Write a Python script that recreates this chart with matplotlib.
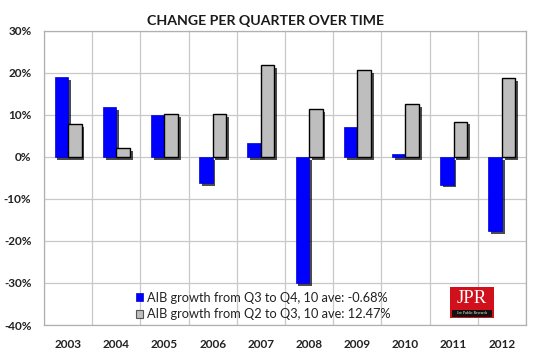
import matplotlib
matplotlib.use("Agg")
import matplotlib.pyplot as plt
import matplotlib.patheffects as pe
from matplotlib.patches import Patch, Rectangle
import numpy as np

years = ["2003", "2004", "2005", "2006", "2007", "2008", "2009", "2010", "2011", "2012"]
q3_q4 = [19.0, 11.9, 10.0, -6.2, 3.3, -30.0, 7.2, 0.7, -6.6, -17.6]
q2_q3 = [7.9, 2.1, 10.2, 10.2, 21.9, 11.4, 20.7, 12.6, 8.4, 18.8]
label_q3_q4 = "AIB growth from Q3 to Q4, 10 ave: -0.68%"
label_q2_q3 = "AIB growth from Q2 to Q3, 10 ave: 12.47%"
title = "CHANGE PER QUARTER OVER TIME"
yticks = [-40, -30, -20, -10, 0, 10, 20, 30]

plt.rcParams['font.family'] = ['Lato', 'DejaVu Sans']

fig = plt.figure(figsize=(5.35, 3.52), dpi=100)
ax = fig.add_axes([0.0822, 0.0767, 0.9008, 0.8353])

x = np.arange(len(years))
w = 0.28
shadow = [pe.SimplePatchShadow(offset=(2.0, -2.0), shadow_rgbFace='black', alpha=0.7), pe.Normal()]
ax.bar(x - w / 2, q3_q4, w, color='#0000FF', edgecolor='#0000CC', linewidth=0.5,
       path_effects=shadow, zorder=3)
ax.bar(x + w / 2, q2_q3, w, color='#BEBEBE', edgecolor='black', linewidth=1.0,
       path_effects=shadow, zorder=3)

ax.set_xlim(-0.5, len(years) - 0.5)
ax.set_ylim(-40, 30)
ax.set_yticks(yticks)
ax.set_yticklabels([f"{v}%" for v in yticks], fontsize=8.5, fontweight='bold', color='#222222')
ax.set_xticks(x)
ax.set_xticklabels(years, fontsize=8.5, fontweight='bold', color='#222222')
ax.set_xticks(np.arange(len(years) + 1) - 0.5, minor=True)
ax.tick_params(which='both', length=0, pad=10)
ax.tick_params(axis='y', pad=9)
ax.grid(True, which='minor', axis='x', color='#C8C8C8', linewidth=0.9, zorder=0)
ax.grid(True, which='major', axis='y', color='#C8C8C8', linewidth=0.9, zorder=0)
for s in ax.spines.values():
    s.set_color('#B0B0B0')
    s.set_linewidth(0.9)

fig.text(0.496, 0.94, title, ha='center', va='center', fontsize=10.2, fontweight='bold', color='#1a1a1a')

handles = [Patch(facecolor='#0000FF', edgecolor='#0000CC', linewidth=0.5),
           Patch(facecolor='#BEBEBE', edgecolor='#555555', linewidth=0.8)]
leg = ax.legend(handles, [label_q3_q4, label_q2_q3], loc='upper left',
                bbox_to_anchor=(0.19, 0.113), frameon=False, fontsize=9.2,
                handlelength=0.55, handleheight=0.6, handletextpad=0.35,
                labelspacing=0.35, borderaxespad=0, borderpad=0)
for t in leg.get_texts():
    t.set_color('#222222')

# JPR logo
lx0, ly0 = 450 / 535, 1 - 318 / 352
lw, lh = 44 / 535, 31 / 352
fig.patches.append(Rectangle((lx0, ly0), lw, lh, transform=fig.transFigure,
                             facecolor='#D0101A', edgecolor='none', zorder=5))
fig.patches.append(Rectangle((lx0 + 0.003, ly0 + 0.004), lw - 0.006, 7 / 352,
                             transform=fig.transFigure, facecolor='#111111', edgecolor='none', zorder=6))
fig.text(lx0 + lw / 2, ly0 + lh * 0.62, "JPR", ha='center', va='center', fontsize=13.5,
         family='Liberation Serif', color='white', zorder=7)
fig.text(lx0 + lw / 2, ly0 + 0.004 + 3.5 / 352, "Joe Public Research", ha='center', va='center',
         fontsize=2.7, family='Liberation Serif', color='white', zorder=7)

fig.savefig("out.png", dpi=100)
